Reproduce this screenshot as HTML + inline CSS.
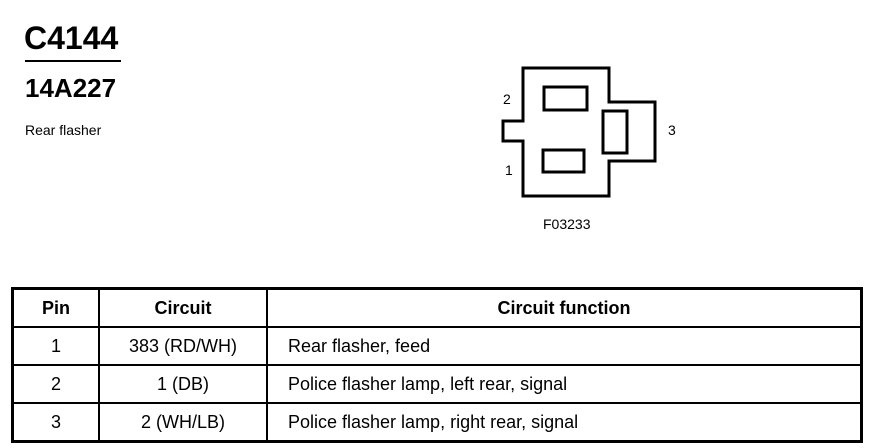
<!DOCTYPE html>
<html><head><style>
body{margin:0;width:878px;height:448px;background:#fff;position:relative;font-family:"Liberation Sans",sans-serif;color:#000;overflow:hidden}
.a{position:absolute;white-space:nowrap}
table{position:absolute;left:11px;top:287px;border-collapse:collapse;border:3px solid #000}
td{border:2px solid #000;height:36px;padding:0;font-size:18px;line-height:18px}
td.c{text-align:center}
th{border:2px solid #000;height:36px;font-size:18px;padding:0}
</style></head><body>
<div class="a" style="left:24px;top:20px;font-size:32px;font-weight:bold">C4144</div>
<div style="position:absolute;left:25px;top:60px;width:96px;height:2px;background:#000"></div>
<div class="a" style="left:25px;top:73px;font-size:26px;font-weight:bold">14A227</div>
<div class="a" style="left:25px;top:122px;font-size:14px">Rear flasher</div>
<svg style="position:absolute;left:0;top:0" width="878" height="280">
<g fill="none" stroke="#000" stroke-width="3">
<path d="M523 68 L609 68 L609 102 L655 102 L655 161 L609 161 L609 196 L523 196 L523 141 L503 141 L503 121 L523 121 Z"/>
<rect x="544" y="87" width="43" height="23"/>
<rect x="543" y="150" width="41" height="22"/>
<rect x="603" y="111" width="24" height="42"/>
</g>
<g font-family="Liberation Sans" font-size="14">
<text x="503" y="104">2</text><text x="505" y="175">1</text><text x="668" y="135">3</text>
<text x="543" y="229">F03233</text>
</g>
</svg>
<table>
<tr><th style="width:84px">Pin</th><th style="width:166px">Circuit</th><th style="width:592px">Circuit function</th></tr>
<tr><td class="c">1</td><td class="c">383 (RD/WH)</td><td style="padding-left:20px">Rear flasher, feed</td></tr>
<tr><td class="c">2</td><td class="c">1 (DB)</td><td style="padding-left:20px">Police flasher lamp, left rear, signal</td></tr>
<tr><td class="c">3</td><td class="c">2 (WH/LB)</td><td style="padding-left:20px">Police flasher lamp, right rear, signal</td></tr>
</table>
</body></html>
